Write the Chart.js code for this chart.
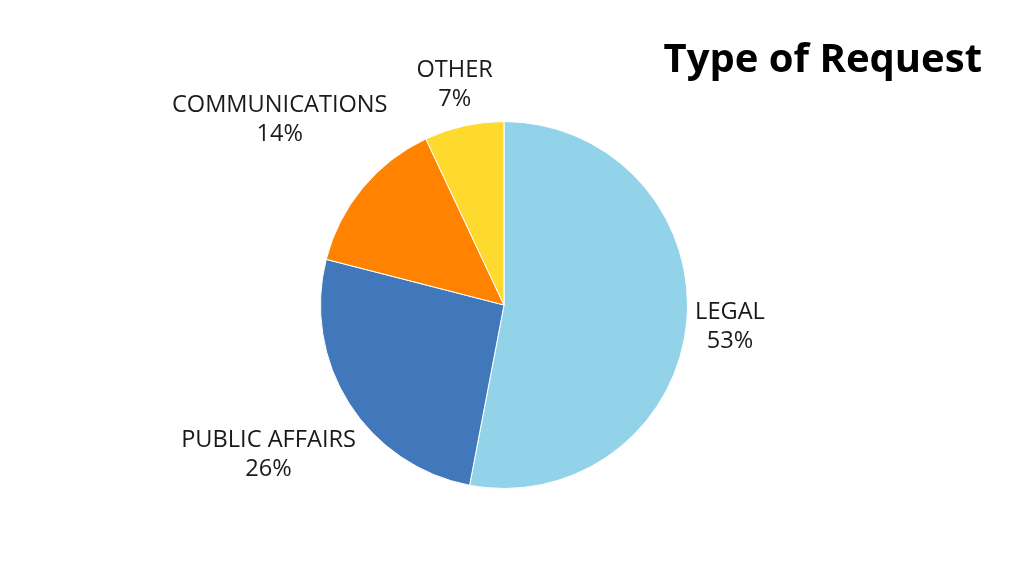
<!DOCTYPE html>
<html>
<head>
<meta charset="utf-8">
<script src="https://cdn.jsdelivr.net/npm/chart.js@4/dist/chart.umd.min.js"></script>
<style>
html,body{margin:0;padding:0;background:#fff;}
#wrap{width:1024px;height:576px;position:relative;}
</style>
</head>
<body>
<div id="wrap"><canvas id="pieChart" width="1024" height="576"></canvas></div>
<script>
const categories = ["LEGAL","PUBLIC AFFAIRS","COMMUNICATIONS","OTHER"];
const shares = [53,26,14,7];
const sliceColors = ["#93d3ea","#4178bb","#ff8200","#ffda2e"];
const chartTitle = "Type of Request";

// labels outside each slice, placed along the slice's middle angle
const outsideLabels = {
id:"outsideLabels",
afterDatasetsDraw(chart){
const ctx = chart.ctx;
const meta = chart.getDatasetMeta(0);
ctx.save();
ctx.font = "23.6px 'Open Sans'";
ctx.fillStyle = "#1a1a1a";
ctx.textAlign = "center";
ctx.textBaseline = "middle";
meta.data.forEach((arc,i) => {
const mid = (arc.startAngle + arc.endAngle)/2;
const dx = Math.cos(mid), dy = Math.sin(mid);
const line1 = categories[i];
const line2 = shares[i] + "%";
const w = Math.max(ctx.measureText(line1).width, ctx.measureText(line2).width);
const hw = w/2, hh = 29;
const d = arc.outerRadius + 6 + Math.abs(dx)*hw + Math.abs(dy)*hh;
const x = arc.x + dx*d, y = arc.y + dy*d;
ctx.fillText(line1, x, y-14.5);
ctx.fillText(line2, x, y+14.5);
});
ctx.restore();
}
};

const titlePlugin = {
id:"titlePlugin",
afterDraw(chart){
const ctx = chart.ctx;
ctx.save();
ctx.font = "bold 40px 'Open Sans'";
ctx.fillStyle = "#000";
ctx.textAlign = "right";
ctx.textBaseline = "alphabetic";
ctx.fillText(chartTitle, 982, 72);
ctx.restore();
}
};

new Chart(document.getElementById("pieChart"),{

type:"pie",

data:{
labels:categories,
datasets:[{
data:shares,
backgroundColor:sliceColors,
borderColor:"#ffffff",
borderWidth:1
}]
},

options:{
responsive:false,
animation:false,
layout:{padding:{top:121,bottom:87,left:320,right:336}},
plugins:{legend:{display:false},tooltip:{enabled:false}}
},

plugins:[outsideLabels,titlePlugin]

});
</script>
</body>
</html>
